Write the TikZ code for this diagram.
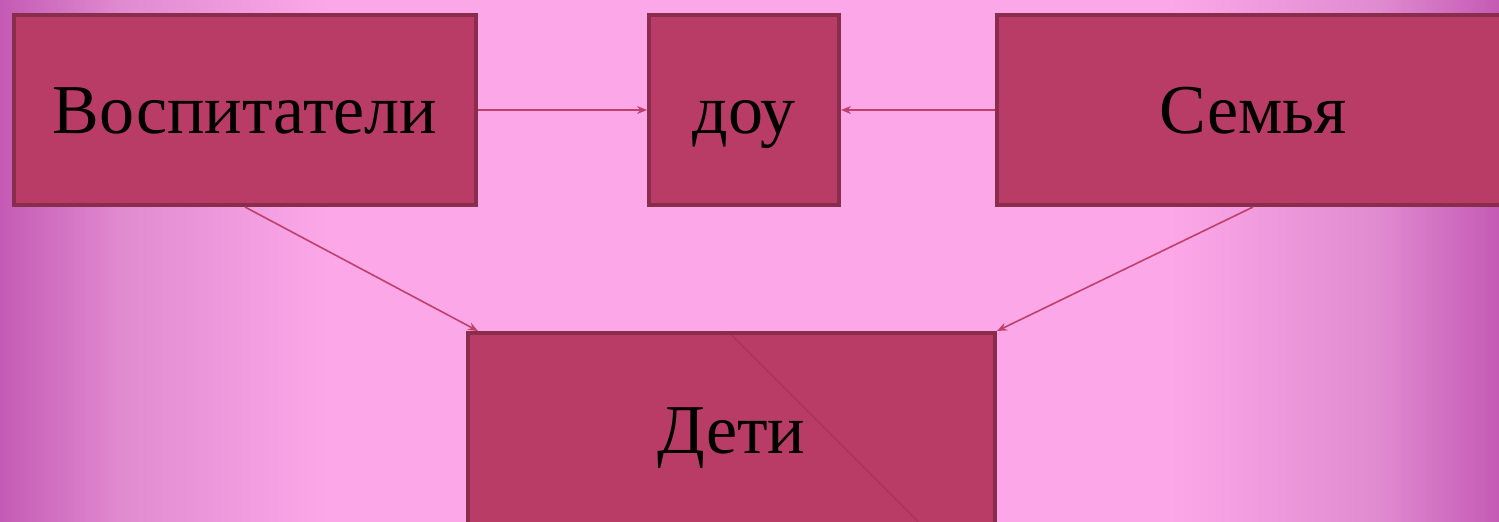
\documentclass[tikz,border=0pt]{standalone}
\usepackage{fontspec}
\setmainfont{Liberation Serif}
\usetikzlibrary{arrows.meta}
\definecolor{boxfill}{HTML}{B93C66}
\definecolor{boxline}{HTML}{8A2D4C}
\definecolor{arrcol}{HTML}{C0406A}
\definecolor{diagcol}{HTML}{A8345C}
\definecolor{bgedge}{HTML}{C45AB4}
\definecolor{bgmid}{HTML}{FCA8E8}
\definecolor{bgside}{HTML}{E08AD0}
\pgfdeclarehorizontalshading{bgshade}{100bp}{%
  color(0bp)=(bgedge); color(25bp)=(bgedge); color(29bp)=(bgside); color(36bp)=(bgmid);
  color(64bp)=(bgmid); color(71bp)=(bgside); color(75bp)=(bgedge); color(100bp)=(bgedge)}
\tikzset{
  box/.style={draw=boxline, line width=2pt, fill=boxfill, rectangle,
    font=\fontsize{35}{40}\selectfont, text=black, inner sep=0pt,
    text height=23pt, text depth=0pt},
  conn/.style={draw=arrcol, line width=0.8pt, -{Stealth[length=5pt,width=4pt]}}
}
\begin{document}
\begin{tikzpicture}[x=0.5pt,y=-0.5pt]
\useasboundingbox (0,0) rectangle (1499,521);
\clip (0,0) rectangle (1499,521);
\shade[shading=bgshade] (0,0) rectangle (1499,521);
\node[box, minimum width=231pt, minimum height=95pt] (vos) at (245,110) {Воспитатели};
\node[box, minimum width=95pt, minimum height=95pt] (dou) at (744,110) {доу};
\node[box, minimum width=256pt, minimum height=95pt] (sem) at (1253,110) {Семья};
\node[box, minimum width=263.5pt, minimum height=97.5pt] (det) at (731.5,430.5) {Дети};
\draw[draw=diagcol, line width=0.7pt] ([yshift=-2pt]det.north) -- ++(188,188);
\draw[conn] (vos.east) -- (dou.west);
\draw[conn] (sem.west) -- (dou.east);
\draw[conn] (vos.south) -- ([xshift=6pt]det.north west);
\draw[conn] (sem.south) -- (det.north east);
\end{tikzpicture}
\end{document}
